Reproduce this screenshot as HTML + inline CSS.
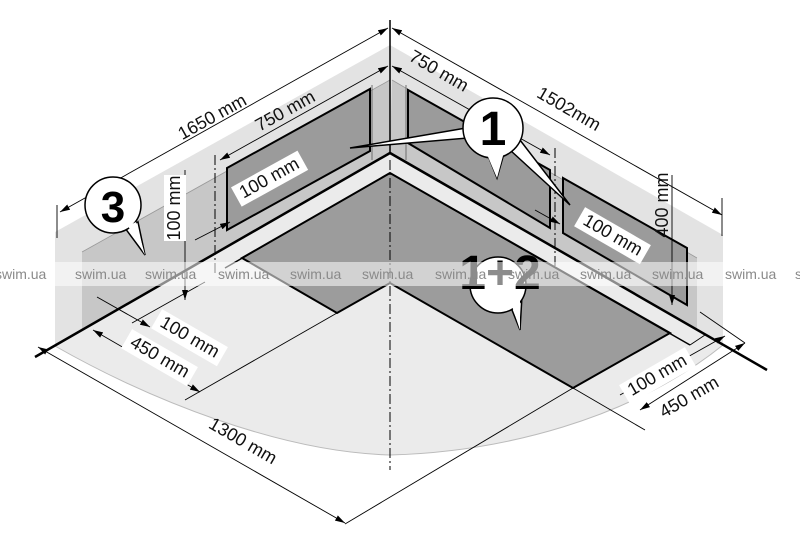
<!DOCTYPE html>
<html><head><meta charset="utf-8"><style>
html,body{margin:0;padding:0;background:#fff}
svg{display:block}
text{font-family:"Liberation Sans",sans-serif}
.d{font-size:18px;fill:#111}
.w{font-size:14px;fill:#8a8a8a}
</style></head><body>
<svg width="800" height="546" viewBox="0 0 800 546" xmlns="http://www.w3.org/2000/svg">
<defs>
<marker id="a" viewBox="0 0 10 6" refX="10" refY="3" markerWidth="10" markerHeight="6" orient="auto-start-reverse" markerUnits="userSpaceOnUse"><path d="M0,0 L10,3 L0,6 Z" fill="#000"/></marker>
</defs>
<polygon points="390,45 55,232 55,346 390,153" fill="#e3e3e3"/>
<polygon points="390,80 82,252 82,330 390,153" fill="#c7c7c7"/>
<polygon points="390,45 723,235 723,345 390,153" fill="#e3e3e3"/>
<polygon points="392,80 697,258 697,330 390,153" fill="#c7c7c7"/>
<line x1="390" y1="80" x2="82" y2="252" stroke="#999" stroke-width="0.8"/>
<line x1="392" y1="80" x2="697" y2="258" stroke="#999" stroke-width="0.8"/>
<polygon points="227,168 370,89 370,151 227,230" fill="#9b9b9b" stroke="#000" stroke-width="2"/>
<polygon points="408,90 550,170 550,228 408,143" fill="#9b9b9b" stroke="#000" stroke-width="2"/>
<polygon points="563,178 687,248 687,305 563,233" fill="#9b9b9b" stroke="#000" stroke-width="2"/>
<path d="M55,346 L390,153 L723,345 C630,420 500,452 390,455 C280,452 150,400 55,346 Z" fill="#ebebeb"/>
<path d="M55,346 C150,400 280,452 390,455 C500,452 630,420 723,345" fill="none" stroke="#bbb" stroke-width="1"/>
<polygon points="390,173 242,258 337,313 390,283 573,388 670,333" fill="#9c9c9c" stroke="#000" stroke-width="2"/>
<polyline points="225,268 390,173 690,345" fill="none" stroke="#000" stroke-width="1.5"/>
<polyline points="35,357 390,153 767,370" fill="none" stroke="#000" stroke-width="2.5"/>
<line x1="390" y1="20" x2="390" y2="153" stroke="#000" stroke-width="1.5"/>
<line x1="372" y1="85" x2="372" y2="160" stroke="#555" stroke-width="0.8"/>
<line x1="406" y1="85" x2="406" y2="160" stroke="#555" stroke-width="0.8"/>
<g stroke="#000" stroke-width="1" stroke-dasharray="10,3,2,3" fill="none">
<line x1="390" y1="160" x2="390" y2="470"/>
<line x1="215" y1="155" x2="215" y2="275"/>
<line x1="555" y1="148" x2="555" y2="268"/>
</g>
<g stroke="#000" stroke-width="0.9" fill="none">
<line x1="337" y1="313" x2="185" y2="400"/>
<line x1="573" y1="388" x2="345" y2="524"/>
<line x1="573" y1="388" x2="645" y2="430"/>
<line x1="132" y1="323" x2="205" y2="282"/>
<line x1="690" y1="345" x2="705" y2="335"/>
</g>
<g stroke="#000" stroke-width="0.9" fill="none">
<line x1="60" y1="212" x2="388" y2="28" marker-start="url(#a)" marker-end="url(#a)"/>
<line x1="57" y1="205" x2="57" y2="238"/>
<line x1="392" y1="28" x2="722" y2="215" marker-start="url(#a)" marker-end="url(#a)"/>
<line x1="722" y1="198" x2="722" y2="236"/>
<line x1="220" y1="160" x2="388" y2="66" marker-start="url(#a)" marker-end="url(#a)"/>
<line x1="392" y1="66" x2="550" y2="155" marker-start="url(#a)" marker-end="url(#a)"/>
<line x1="185" y1="170" x2="185" y2="300" marker-end="url(#a)"/>
<line x1="195" y1="240" x2="230" y2="222" marker-end="url(#a)"/>
<line x1="672" y1="175" x2="672" y2="305" marker-end="url(#a)"/>
<line x1="535" y1="210" x2="560" y2="224" marker-end="url(#a)"/>
<line x1="38" y1="347" x2="345" y2="523" marker-start="url(#a)" marker-end="url(#a)"/>
<line x1="93" y1="330" x2="200" y2="392" marker-start="url(#a)" marker-end="url(#a)"/>
<line x1="97" y1="297" x2="150" y2="327" marker-end="url(#a)"/>
<line x1="640" y1="410" x2="745" y2="343" marker-start="url(#a)" marker-end="url(#a)"/>
<line x1="620" y1="395" x2="725" y2="336" marker-end="url(#a)"/>
<line x1="700" y1="312" x2="745" y2="343"/>
</g>
<text class="d" transform="translate(215,122) rotate(-29)" text-anchor="middle">1650 mm</text>
<text class="d" transform="translate(288,116) rotate(-29)" text-anchor="middle">750 mm</text>
<text class="d" transform="translate(436,76) rotate(30)" text-anchor="middle">750 mm</text>
<text class="d" transform="translate(566,114) rotate(30)" text-anchor="middle">1502mm</text>
<g transform="translate(272,183) rotate(-29)"><rect x="-38" y="-16" width="76" height="22" fill="#fff"/><text class="d" text-anchor="middle">100 mm</text></g>
<g transform="translate(610,240) rotate(30)"><rect x="-38" y="-16" width="76" height="22" fill="#fff"/><text class="d" text-anchor="middle">100 mm</text></g>
<g transform="translate(180,208) rotate(-90)"><rect x="-33" y="-16" width="66" height="22" fill="#fff"/><text class="d" text-anchor="middle">100 mm</text></g>
<text class="d" transform="translate(668,205) rotate(-90)" text-anchor="middle">400 mm</text>
<g transform="translate(187,342) rotate(30)"><rect x="-38" y="-16" width="76" height="22" fill="#fff"/><text class="d" text-anchor="middle">100 mm</text></g>
<g transform="translate(157,362) rotate(30)"><rect x="-38" y="-16" width="76" height="22" fill="#fff"/><text class="d" text-anchor="middle">450 mm</text></g>
<text class="d" transform="translate(240,446) rotate(30)" text-anchor="middle">1300 mm</text>
<g transform="translate(660,380) rotate(-30)"><rect x="-38" y="-16" width="76" height="22" fill="#fff"/><text class="d" text-anchor="middle">100 mm</text></g>
<text class="d" transform="translate(692,402) rotate(-30)" text-anchor="middle">450 mm</text>
<g stroke="#000" stroke-width="1.5">
<path d="M350,148 L466,128 L468,138 Z" fill="#fff"/>
<path d="M510,150 L570,205 L520,140 Z" fill="#fff"/>
<path d="M485,148 L497,178 L505,150 Z" fill="#fff"/>
<circle cx="493" cy="128" r="30" fill="#fff"/>
<path d="M125,228 L145,255 L138,222 Z" fill="#fff"/>
<circle cx="113" cy="205" r="28" fill="#fff"/>
<path d="M508,300 L520,330 L522,296 Z" fill="#fff"/>
<circle cx="498" cy="285" r="28" fill="#fff"/>
</g>
<path d="M486,152 L497,178 L504,152 Z" fill="#fff"/>
<path d="M128,226 L145,255 L136,222 Z" fill="#fff"/>
<path d="M510,300 L520,330 L520,298 Z" fill="#fff"/>
<text x="493" y="145" font-size="48" font-weight="bold" text-anchor="middle" fill="#000">1</text>
<text x="113" y="222" font-size="44" font-weight="bold" text-anchor="middle" fill="#000">3</text>
<text x="500" y="289" font-size="48" font-weight="bold" text-anchor="middle" fill="#000">1+2</text>
<rect x="28" y="262" width="744" height="24" fill="#fff" opacity="0.55"/>
<g class="w">
<text x="-5" y="279">swim.ua</text><text x="75" y="279">swim.ua</text><text x="145" y="279">swim.ua</text><text x="218" y="279">swim.ua</text><text x="290" y="279">swim.ua</text><text x="362" y="279">swim.ua</text><text x="435" y="279">swim.ua</text><text x="508" y="279">swim.ua</text><text x="580" y="279">swim.ua</text><text x="652" y="279">swim.ua</text><text x="725" y="279">swim.ua</text><text x="795" y="279">swim.ua</text>
</g>
</svg>
</body></html>
